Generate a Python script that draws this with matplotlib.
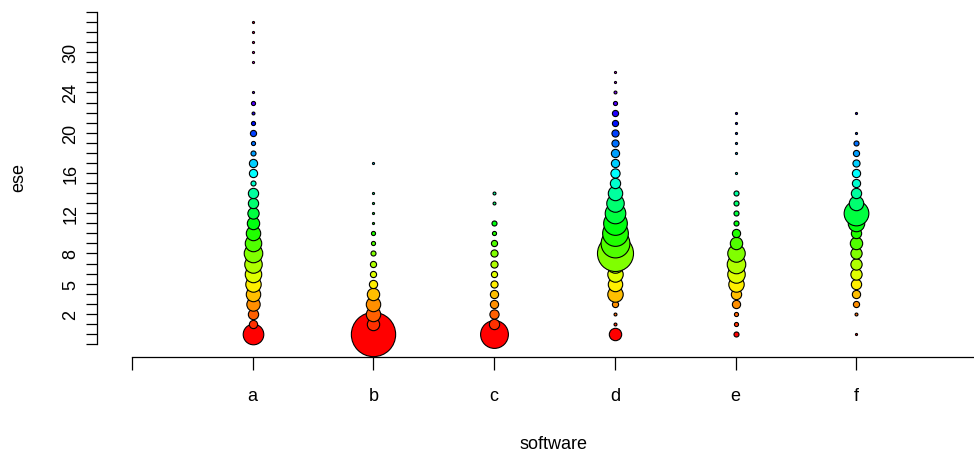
import numpy as np
import matplotlib
matplotlib.use('Agg')
import matplotlib.pyplot as plt
from matplotlib.colors import hsv_to_rgb

plt.rcParams['font.family'] = ['Liberation Sans', 'DejaVu Sans']
plt.rcParams['font.size'] = 13

# levels of the ese factor, bottom to top (first slot is the empty axis start)
ese_levels = ['', '0', '1', '2', '3', '4', '5', '6', '7', '8', '9', '10', '11',
              '12', '13', '14', '15', '16', '17', '18', '19', '20', '21', '22',
              '23', '24', '25', '26', '28', '30', '31', '32', '33', '35']
shown_labels = ['2', '5', '8', '12', '16', '20', '24', '30']

software = ['a', 'b', 'c', 'd', 'e', 'f']

# ese value -> number of cases, one pair of lists per software
a_ese = ['0', '1', '2', '3', '4', '5', '6', '7', '8', '9', '10', '11', '12', '13',
         '14', '15', '16', '17', '18', '19', '20', '21', '22', '23', '24',
         '28', '30', '31', '32', '33']
a_n = [100, 16, 25, 42, 49, 56, 64, 72, 81, 64, 49, 36, 30, 25,
       25, 6, 16, 16, 6, 4, 9, 4, 2, 4, 1,
       1, 1, 1, 1, 1]

b_ese = ['0', '1', '2', '3', '4', '5', '6', '7', '8', '9', '10', '11', '12', '13',
         '14', '17']
b_n = [462, 36, 49, 49, 36, 16, 9, 9, 6, 4, 4, 1, 1, 1,
       1, 1]

c_ese = ['0', '1', '2', '3', '4', '5', '6', '7', '8', '9', '10', '11', '13', '14']
c_n = [182, 25, 20, 16, 16, 12, 9, 12, 12, 9, 4, 6, 2, 2]

d_ese = ['0', '1', '2', '3', '4', '5', '6', '7', '8', '9', '10', '11', '12', '13',
         '14', '15', '16', '17', '18', '19', '20', '21', '22', '23', '24', '25', '26']
d_n = [36, 2, 2, 9, 56, 49, 56, 72, 306, 196, 156, 132, 100, 72,
       49, 25, 20, 16, 16, 12, 12, 9, 9, 4, 2, 1, 1]

e_ese = ['0', '1', '2', '3', '4', '5', '6', '7', '8', '9', '10', '11', '12', '13',
         '14', '16', '18', '19', '20', '21', '22']
e_n = [6, 4, 4, 16, 25, 56, 72, 81, 72, 36, 16, 6, 6, 6,
       6, 1, 1, 1, 1, 1, 1]

f_ese = ['0', '2', '3', '4', '5', '6', '7', '8', '9', '10', '11', '12', '13',
         '14', '15', '16', '17', '18', '19', '20', '22']
f_n = [1, 2, 9, 16, 25, 30, 30, 30, 36, 25, 64, 144, 49,
       25, 16, 16, 12, 9, 6, 1, 1]

columns = [(a_ese, a_n), (b_ese, b_n), (c_ese, c_n),
           (d_ese, d_n), (e_ese, e_n), (f_ese, f_n)]

fig = plt.figure(figsize=(9.74, 4.52), dpi=100)
ax = fig.add_axes([132 / 974, 107 / 452, 845 / 974, 332 / 452])

for i, (ese, n) in enumerate(columns):
    ypos = np.array([ese_levels.index(v) for v in ese])
    cols = hsv_to_rgb(np.column_stack([(ypos - 1) / 32.0,
                                       np.ones(len(ypos)), np.ones(len(ypos))]))
    for y, c, k in zip(ypos, cols, n):
        ax.scatter([i + 1], [y], s=2.2 * k, color=c, edgecolors='black',
                   linewidths=0.8, clip_on=False, zorder=2)

ax.set_xlim(0, 7)
ax.set_ylim(0, 33)

for side in ['top', 'right']:
    ax.spines[side].set_visible(False)
ax.spines['left'].set_position(('outward', 25))
ax.spines['left'].set_bounds(0, 33)
ax.spines['bottom'].set_position(('outward', 9.5))
ax.spines['bottom'].set_bounds(0, 7)
for side in ['left', 'bottom']:
    ax.spines[side].set_linewidth(0.9)

ax.set_xticks(range(8))
ax.set_xticklabels([''] + software + [''])
ax.set_yticks(range(len(ese_levels)))
ax.set_yticklabels([lab if lab in shown_labels else '' for lab in ese_levels],
                   rotation=90, va='center')
ax.tick_params(axis='x', length=9, width=0.9, pad=12.5)
ax.tick_params(axis='y', length=8, width=0.9, pad=5)

fig.text(554 / 974, 1 - 449 / 452, 'software', ha='center', va='baseline')
fig.text(23 / 974, 1 - 178 / 452, 'ese', rotation=90, rotation_mode='anchor',
         ha='center', va='baseline')

fig.savefig('out.png', dpi=100)
